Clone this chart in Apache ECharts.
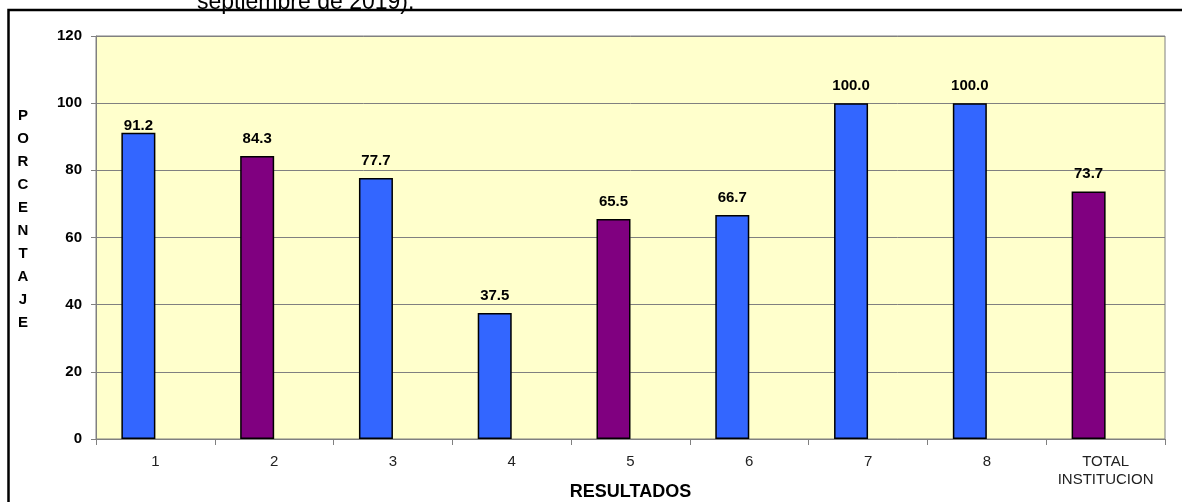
<!DOCTYPE html>
<html>
<head>
<meta charset="utf-8">
<script src="https://cdn.jsdelivr.net/npm/echarts@6/dist/echarts.min.js"></script>
<style>
  html, body { margin: 0; padding: 0; background: #fff; }
  #main { width: 1182px; height: 502px; }
</style>
</head>
<body>
<div id="main"></div>
<script>
// datos del grafico
var categorias = ['1', '2', '3', '4', '5', '6', '7', '8', 'TOTAL\nINSTITUCION'];
var porcentajes = [91.2, 84.3, 77.7, 37.5, 65.5, 66.7, 100.0, 100.0, 73.7];
var colores = ['#3366FF', '#800080', '#3366FF', '#3366FF', '#800080', '#3366FF', '#3366FF', '#3366FF', '#800080'];
var yTicks = [0, 20, 40, 60, 80, 100, 120];

var chart = echarts.init(document.getElementById('main'));

var barData = porcentajes.map(function (v, i) {
  var item = { value: v, itemStyle: { color: colores[i] } };
  if (i === 0) item.label = { distance: -1 }; // la etiqueta 91.2 queda pegada a la barra
  return item;
});

var font = 'Liberation Sans, Arial, sans-serif';

var option = {
  backgroundColor: '#ffffff',
  animation: false,
  textStyle: { fontFamily: font },
  grid: {
    left: 96, right: 17, top: 36, bottom: 63,
    containLabel: false,
    outerBoundsMode: 'none',
    show: true,
    backgroundColor: '#FFFFCC',
    borderColor: '#808080',
    borderWidth: 1
  },
  xAxis: {
    type: 'category',
    data: categorias,
    axisLine: { lineStyle: { color: '#808080', width: 1 } },
    axisTick: { show: true, interval: 0, length: 6, lineStyle: { color: '#808080' } },
    axisLabel: { interval: 0, color: '#222', fontSize: 15, margin: 14, lineHeight: 18 },
    name: 'RESULTADOS',
    nameLocation: 'middle',
    nameGap: 44,
    nameMoveOverlap: false,
    nameTextStyle: { color: '#000', fontWeight: 'bold', fontSize: 18 }
  },
  yAxis: {
    type: 'value',
    min: yTicks[0],
    max: yTicks[yTicks.length - 1],
    interval: 20,
    axisLine: { show: true, lineStyle: { color: '#808080', width: 1 } },
    axisTick: { show: true, length: 5, lineStyle: { color: '#808080' } },
    axisLabel: { color: '#000', fontWeight: 'bold', fontSize: 15, margin: 14 },
    splitLine: { show: true, lineStyle: { color: '#808080', width: 1 } }
  },
  series: [
    {
      type: 'bar',
      data: barData,
      barWidth: 34,
      barGap: '0%',
      itemStyle: { borderColor: '#000', borderWidth: 1.5 },
      label: {
        show: true,
        position: 'top',
        distance: 10,
        color: '#000',
        fontWeight: 'bold',
        fontSize: 15,
        formatter: function (p) { return p.value.toFixed(1); }
      }
    },
    {
      // serie vacia, desplaza las barras a la izquierda como en Excel
      type: 'bar',
      data: porcentajes.map(function () { return null; }),
      barWidth: 34
    }
  ],
  graphic: [
    {
      type: 'rect',
      shape: { x: 8.5, y: 10, width: 1200, height: 520 },
      style: { fill: 'none', stroke: '#000', lineWidth: 2.5 },
      z: 0
    },
    {
      type: 'text',
      style: {
        x: 197, y: 14,
        text: 'septiembre de 2019).',
        fill: '#000',
        font: '23px ' + font,
        verticalAlign: 'bottom'
      },
      z: 10
    },
    {
      type: 'text',
      style: {
        x: 23, y: 104,
        text: 'PORCENTAJE'.split('').join('\n'),
        fill: '#000',
        font: 'bold 15px ' + font,
        lineHeight: 23,
        align: 'center'
      }
    }
  ]
};

chart.setOption(option);
</script>
</body>
</html>
